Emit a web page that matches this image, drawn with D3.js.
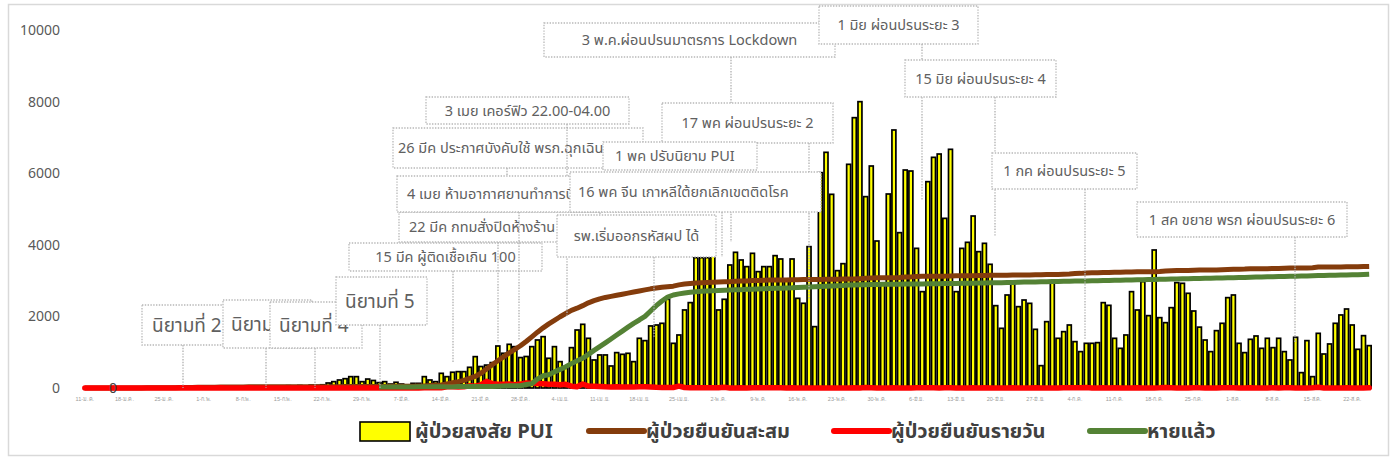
<!DOCTYPE html>
<html>
<head>
<meta charset="utf-8">
<script src="https://cdn.jsdelivr.net/npm/d3@7"></script>
<style>
  body { margin: 0; background: #fff; }
  svg { display: block; font-family: "Tahoma", "Leelawadee UI", "Noto Sans Thai", "Noto Sans", sans-serif; }
</style>
</head>
<body>
<div id="viz"></div>
<script>
// ---- data ----
const startDay = new Date(2020, 0, 11);
const dayCount = 228;

const tickLabels = ["11-ม.ค.", "18-ม.ค.", "25-ม.ค.", "1-ก.พ.", "8-ก.พ.", "15-ก.พ.", "22-ก.พ.", "29-ก.พ.",
  "7-มี.ค.", "14-มี.ค.", "21-มี.ค.", "28-มี.ค.", "4-เม.ย.", "11-เม.ย.", "18-เม.ย.", "25-เม.ย.",
  "2-พ.ค.", "9-พ.ค.", "16-พ.ค.", "23-พ.ค.", "30-พ.ค.", "6-มิ.ย.", "13-มิ.ย.", "20-มิ.ย.", "27-มิ.ย.",
  "4-ก.ค.", "11-ก.ค.", "18-ก.ค.", "25-ก.ค.", "1-ส.ค.", "8-ส.ค.", "15-ส.ค.", "22-ส.ค."];
const yTicks = [0, 2000, 4000, 6000, 8000, 10000];

// ผู้ป่วยสงสัย PUI (daily)
const pui = [
  0, 0, 5, 8, 6, 10, 12, 8, 15, 20, 12, 25, 18, 22, 30, 25, 35, 45, 30, 25, 40,
  45, 30, 35, 50, 25, 40, 35, 45, 30, 35, 55, 40, 45, 60, 50, 65, 55, 70, 60, 80, 75, 90, 140,
  177, 224, 260, 317, 317, 177, 250, 210, 150, 177, 110, 160, 110, 90, 130, 130, 317, 224, 177, 410,
  317, 440, 457, 457, 578, 876, 600, 640, 710, 1173, 970, 1220, 1155, 850, 880, 1155, 1341, 1434,
  830, 1155, 736, 550, 1127, 1620, 1779, 1388, 783, 923, 923, 615, 988, 941, 969, 736, 1388, 1323, 1733, 1760,
  1807, 2478, 1248, 1481, 2180, 2385, 3641, 3641, 3641, 4088, 2180, 2478, 3436, 3790, 3576, 3390, 3762, 3250, 3390, 3390,
  3697, 3604, 3036, 3604, 2505, 2366, 3948, 1714, 6015, 6583,
  5410, 3278, 3473, 6248, 7551, 7998, 5345, 6201, 4106, 2900, 5419, 7207, 4339, 6089, 6061, 3901, 2691, 5763, 6443, 6536,
  4739, 6667, 2691, 3900, 4069, 4804, 3808, 4041, 3455, 2300, 1667, 2598, 2971, 2272, 2458, 2365, 1639, 624, 1853, 2971,
  1388, 1574, 1760, 1295, 1016, 1248, 1248, 1267, 2384, 2309, 1388, 1108, 1481, 2691, 2179, 2971, 2021, 3855, 1965, 1825,
  2244, 2943, 2924, 2645, 2151, 1700, 1341, 1016, 1602, 1807, 2524, 2598, 1248, 988, 1360, 1453, 1108, 1388, 1127, 1388,
  1016, 783, 1416, 429, 1323, 317, 1527, 950, 1230, 1807, 2040, 2207, 1760, 1081, 1462, 1183
];

// ผู้ป่วยยืนยันสะสม (cumulative)
const confirmedTotal = [
  0, 0, 1, 1, 1, 1, 2, 2, 2, 2, 2, 4, 4, 5, 5, 7, 7, 14, 14, 14, 19,
  19, 19, 19, 25, 25, 25, 25, 25, 32, 32, 32, 33, 33, 33, 34, 34, 35, 35, 35, 35, 35, 35, 35, 35, 37, 40, 40, 41, 42,
  42, 43, 43, 43, 47, 48, 50, 50, 50, 53, 59, 70,
  75, 82, 114, 147, 177, 212, 272, 322, 411, 530, 650, 760, 870, 980, 1080, 1180, 1300, 1430, 1560,
  1680, 1790, 1890, 1990, 2080, 2170, 2230, 2300, 2380, 2440, 2490, 2530, 2560, 2590, 2620, 2650, 2680, 2710, 2740, 2770,
  2795, 2815, 2830, 2845, 2880, 2905, 2920, 2930, 2940, 2947,
  2954, 2960, 2966, 2970, 2980, 2988, 2992, 3000, 3004, 3009, 3015, 3017, 3018, 3018, 3025, 3025, 3028, 3031, 3033, 3034,
  3037, 3037, 3040, 3042, 3042, 3045, 3054, 3065, 3076, 3077, 3081,
  3082, 3083, 3084, 3102, 3104, 3112, 3119, 3121, 3125, 3125, 3125, 3129, 3134, 3135, 3135, 3135, 3141, 3141, 3146, 3148,
  3151, 3151, 3156, 3156, 3157, 3158, 3162, 3162, 3169, 3171,
  3173, 3179, 3185, 3195, 3202, 3215, 3217, 3220, 3227, 3227, 3236, 3236, 3239, 3240, 3246, 3249, 3250, 3250, 3255, 3269,
  3276, 3279, 3279, 3281, 3291, 3295, 3297, 3297, 3298, 3304, 3310,
  3317, 3320, 3321, 3328, 3330, 3330, 3333, 3340, 3341, 3345, 3351, 3351, 3351, 3354, 3359, 3377, 3378, 3378, 3379, 3382,
  3387, 3389, 3390, 3391, 3395
];

// ผู้ป่วยยืนยันรายวัน (daily)
const confirmedDaily = [
  0, 0, 1, 0, 0, 0, 1, 0, 0, 0, 0, 2, 0, 1, 0, 2, 0, 7, 0, 0, 5,
  0, 0, 0, 6, 0, 0, 0, 0, 7, 0, 0, 1, 0, 0, 1, 0, 1, 0, 0, 0, 0, 0, 0, 0, 2, 3, 0, 1, 1,
  0, 1, 0, 0, 4, 1, 2, 0, 0, 3, 6, 11, 5, 7, 32, 33, 30, 35, 60, 50, 89, 188, 122, 106, 107, 111, 91, 109, 143, 136, 127,
  120, 104, 103, 89, 102, 51, 38, 111, 54, 50, 45, 33, 28, 34, 30, 29, 28, 33, 32, 27, 19, 15, 13, 15, 53, 15, 9, 7, 9, 7,
  6, 6, 18, 3, 1, 6, 1, 5, 4, 5, 6, 7, 7, 2, 5, 3, 3, 3, 3, 3, 1, 0, 1, 2, 3, 4, 0, 11, 8, 2, 1,
  1, 5, 1, 1, 1, 7, 10, 4, 4, 0, 4, 5, 1, 0, 0, 6, 0, 5, 2, 1, 3, 0, 5, 0, 1, 1, 4, 0, 0, 0,
  2, 6, 6, 10, 7, 13, 2, 3, 7, 0, 9, 0, 3, 1, 6, 3, 1, 0, 5, 14, 7, 3, 0, 2, 10, 4, 2, 0, 1, 6, 6,
  7, 3, 1, 7, 2, 0, 3, 7, 1, 4, 6, 0, 0, 3, 5, 18, 1, 0, 1, 3, 5, 2, 1, 1, 4
];

// หายแล้ว (recovered), series begins 4 Mar
const recoveredStart = 52;
const recovered = [
  31, 31, 31, 31, 31, 31, 31, 33, 33, 35,
  35, 35, 35, 35, 42, 42, 42, 42, 42, 44, 44, 52, 57, 61, 61, 62, 97,
  120, 250, 342, 370, 450, 520, 596, 680, 760, 830, 940, 1050, 1154, 1260, 1370, 1480, 1590, 1700, 1807, 1900,
  2000, 2150, 2300, 2430, 2540, 2598, 2630, 2655, 2675, 2690, 2700, 2710,
  2718, 2725, 2731, 2737, 2742, 2747, 2755, 2760, 2766, 2770, 2776, 2784, 2788, 2795, 2800, 2810, 2815, 2822, 2830, 2838,
  2845, 2852, 2858, 2865, 2877,
  2879, 2881, 2886, 2888, 2890, 2895, 2896, 2897, 2901, 2902, 2904, 2907, 2908, 2912, 2913, 2914, 2918, 2919, 2920, 2923, 2925,
  2927, 2930, 2935, 2937, 2941, 2943, 2948, 2950, 2953, 2958, 2960, 2963, 2968, 2970, 2973, 2977, 2979, 2984, 2986, 2990,
  2992, 2997, 2999, 3003, 3006, 3010, 3012, 3016, 3019, 3023, 3025, 3029, 3032, 3036,
  3038, 3042, 3046, 3049, 3053, 3057, 3061, 3064, 3068, 3072, 3075, 3079, 3083, 3087, 3090, 3094, 3098, 3102, 3105, 3109,
  3113, 3117, 3120, 3124, 3128, 3131, 3135, 3139, 3143, 3146, 3150, 3154, 3158, 3161, 3165, 3170, 3176
];

const seriesNames = ["ผู้ป่วยสงสัย PUI", "ผู้ป่วยยืนยันสะสม", "ผู้ป่วยยืนยันรายวัน", "หายแล้ว"];

// callout texts, in drawing order
const noteTexts = [
  "นิยามที่ 2", "นิยามที่ 3", "นิยามที่ 4",
  "3 พ.ค.ผ่อนปรนมาตรการ Lockdown", "1 มิย ผ่อนปรนระยะ 3", "15 มิย ผ่อนปรนระยะ 4",
  "1 กค ผ่อนปรนระยะ 5", "1 สค ขยาย พรก ผ่อนปรนระยะ 6",
  "26 มีค ประกาศบังคับใช้ พรก.ฉุกเฉิน", "3 เมย เคอร์ฟิว 22.00-04.00",
  "17 พค ผ่อนปรนระยะ 2", "1 พค ปรับนิยาม PUI", "15 มีค ผู้ติดเชื้อเกิน 100",
  "22 มีค กทมสั่งปิดห้างร้าน", "4 เมย ห้ามอากาศยานทำการบินเข้าประเทศ",
  "16 พค จีน เกาหลีใต้ยกเลิกเขตติดโรค", "รพ.เริ่มออกรหัสผป ได้", "นิยามที่ 5"
];

// ---- layout ----
const W = 1395, H = 465;
const dates = d3.timeDay.range(startDay, d3.timeDay.offset(startDay, dayCount));

// callout boxes [x1, y1, x2, y2], leader [x, yEnd], font size, left padding (null = centred)
const noteLayout = [
  {box: [142, 305, 226, 345], leader: [183, 388], fs: 19, pad: 10},
  {box: [223, 300, 312, 348], leader: [266, 388], fs: 19, pad: 8},
  {box: [270, 302, 362, 348], leader: [315, 388], fs: 19, pad: 9},
  {box: [544, 23, 835, 57], leader: [731, 242], fs: 14.5, pad: null},
  {box: [819, 6, 978, 44], leader: [922, 200], fs: 14.5, pad: null},
  {box: [905, 60, 1056, 97], leader: [995, 237], fs: 14.5, pad: null},
  {box: [992, 153, 1137, 189], leader: [1085, 340], fs: 14.5, pad: null},
  {box: [1137, 202, 1347, 237], leader: [1295, 342], fs: 14.5, pad: null},
  {box: [393, 128, 643, 168], leader: [507, 178], fs: 14.5, pad: 5},
  {box: [426, 97, 629, 124], leader: [567, 317], fs: 14.5, pad: null},
  {box: [662, 103, 833, 143], leader: [809, 300], fs: 14.5, pad: null},
  {box: [603, 142, 757, 170], leader: [731, 175], fs: 14.5, pad: 12},
  {box: [349, 243, 542, 271], leader: [453, 362], fs: 14.5, pad: null},
  {box: [399, 212, 600, 242], leader: [498, 343], fs: 14.5, pad: 10},
  {box: [397, 176, 650, 212], leader: [519, 340], fs: 14.5, pad: 10},
  {box: [570, 172, 821, 212], leader: [722, 257], fs: 14.5, pad: 8},
  {box: [557, 215, 716, 257], leader: [654, 337], fs: 14.5, pad: null},
  {box: [336, 277, 427, 325], leader: [380, 388], fs: 19, pad: 9}
];

const svg = d3.select("#viz").append("svg")
  .attr("width", W)
  .attr("height", H);

svg.append("rect")
  .attr("x", 8.5).attr("y", 4.5)
  .attr("width", 1380).attr("height", 451)
  .attr("fill", "#fff")
  .attr("stroke", "#d9d9d9")
  .attr("stroke-width", 1.5);

const x = d3.scaleBand()
  .domain(dates)
  .range([82, 1372])
  .paddingInner(0.3)
  .paddingOuter(0.15);
const cx = d => x(d) + x.bandwidth() / 2;

const y = d3.scaleLinear()
  .domain([0, 10000])
  .range([388, 30]);

// y axis labels
const yAxis = svg.append("g")
  .attr("transform", "translate(60,0)")
  .call(d3.axisLeft(y).tickValues(yTicks).tickSize(0).tickPadding(0).tickFormat(d3.format("d")));
yAxis.select(".domain").remove();
yAxis.selectAll("text")
  .attr("fill", "#595959")
  .style("font-size", "14px")
  .style("font-family", "Tahoma, 'Noto Sans', sans-serif");

// x tick labels (weekly)
const tickDates = tickLabels.map((t, i) => dates[i * 7]);
const xAxis = svg.append("g")
  .attr("transform", "translate(0,397)")
  .call(d3.axisBottom(x).tickValues(tickDates).tickSize(0).tickPadding(0)
    .tickFormat((d, i) => tickLabels[i]));
xAxis.select(".domain").remove();
xAxis.selectAll("text")
  .attr("fill", "#9a9a9a")
  .style("font-size", "5.5px");

// PUI bars
svg.append("g")
  .selectAll("rect")
  .data(pui)
  .join("rect")
  .attr("x", (d, i) => x(dates[i]))
  .attr("y", d => y(d))
  .attr("width", x.bandwidth())
  .attr("height", d => y(0) - y(d))
  .attr("fill", "#ffff00")
  .attr("stroke", "#000")
  .attr("stroke-width", 1.7);

const line = d3.line()
  .defined(d => d != null)
  .x((d, i) => cx(dates[i]))
  .y(d => y(d));

svg.append("path")
  .datum(confirmedTotal)
  .attr("d", line)
  .attr("fill", "none")
  .attr("stroke", "#843c0c")
  .attr("stroke-width", 5)
  .attr("stroke-linejoin", "round");

svg.append("path")
  .datum(confirmedDaily)
  .attr("d", line)
  .attr("fill", "none")
  .attr("stroke", "#ff0000")
  .attr("stroke-width", 5.5)
  .attr("stroke-linejoin", "round")
  .attr("stroke-linecap", "round");

const recoveredFull = dates.map((d, i) => i < recoveredStart ? null : recovered[i - recoveredStart]);
svg.append("path")
  .datum(recoveredFull)
  .attr("d", line)
  .attr("fill", "none")
  .attr("stroke", "#548235")
  .attr("stroke-width", 5)
  .attr("stroke-linejoin", "round");

// zero data label
svg.append("text")
  .attr("x", cx(dates[5]))
  .attr("y", y(0) + 5)
  .attr("text-anchor", "middle")
  .attr("fill", "#404040")
  .style("font-size", "14px")
  .text(confirmedDaily[5]);

// callouts
const notes = svg.append("g");
noteTexts.forEach((t, i) => {
  const L = noteLayout[i];
  const [x1, y1, x2, y2] = L.box;
  notes.append("line")
    .attr("x1", L.leader[0]).attr("x2", L.leader[0])
    .attr("y1", y2).attr("y2", L.leader[1])
    .attr("stroke", "#b0b0b0")
    .attr("stroke-width", 1.3)
    .attr("stroke-dasharray", "1.4,1.4");
  notes.append("rect")
    .attr("x", x1).attr("y", y1)
    .attr("width", x2 - x1).attr("height", y2 - y1)
    .attr("fill", "#fff")
    .attr("stroke", "#b8b8b8")
    .attr("stroke-width", 1.3)
    .attr("stroke-dasharray", "1.4,1.4");
  const txt = notes.append("text")
    .attr("y", (y1 + y2) / 2)
    .attr("dy", "0.36em")
    .attr("fill", "#606060")
    .style("font-size", L.fs + "px")
    .text(t);
  if (L.pad != null) {
    txt.attr("x", x1 + L.pad);
  } else {
    txt.attr("x", (x1 + x2) / 2).attr("text-anchor", "middle");
  }
});

// legend
const legendItems = [
  {kind: "bar", color: "#ffff00", x: 360},
  {kind: "line", color: "#843c0c", x: 589},
  {kind: "line", color: "#ff0000", x: 834},
  {kind: "line", color: "#548235", x: 1090}
];
const legend = svg.append("g").attr("transform", "translate(0,431)");
legendItems.forEach((it, i) => {
  if (it.kind === "bar") {
    legend.append("rect")
      .attr("x", it.x).attr("y", -9)
      .attr("width", 50).attr("height", 19)
      .attr("fill", it.color)
      .attr("stroke", "#000")
      .attr("stroke-width", 1.6);
  } else {
    legend.append("line")
      .attr("x1", it.x).attr("x2", it.x + 55)
      .attr("y1", 0).attr("y2", 0)
      .attr("stroke", it.color)
      .attr("stroke-width", 6)
      .attr("stroke-linecap", "round");
  }
  legend.append("text")
    .attr("x", it.x + (it.kind === "bar" ? 55 : 57))
    .attr("y", 0)
    .attr("dy", "0.36em")
    .attr("fill", "#404040")
    .style("font-size", "20px")
    .style("font-weight", "bold")
    .text(seriesNames[i]);
});
</script>
</body>
</html>
